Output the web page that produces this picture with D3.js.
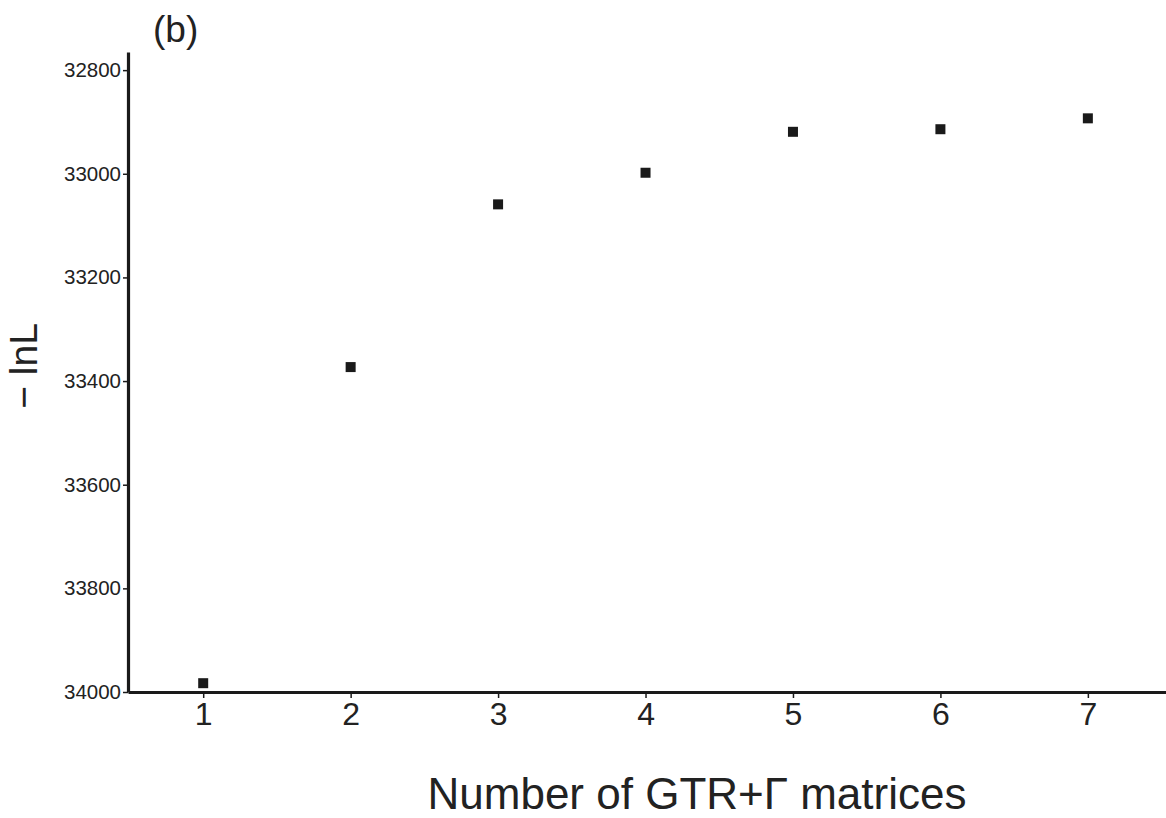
<!DOCTYPE html>
<html>
<head>
<meta charset="utf-8">
<script src="https://cdn.jsdelivr.net/npm/d3@7"></script>
<style>
  body { margin: 0; background: #fff; }
  svg { display: block; font-family: "Liberation Sans", Arial, sans-serif; }
</style>
</head>
<body>
<svg id="chart" width="1166" height="818"></svg>
<script>
// number of GTR+G matrices and -lnL
const matrices = [1, 2, 3, 4, 5, 6, 7];
const negLnL = [33983, 33373, 33059, 32998, 32919, 32914, 32893];
const yTicks = [32800, 33000, 33200, 33400, 33600, 33800, 34000];
const xTicks = [1, 2, 3, 4, 5, 6, 7];

const svg = d3.select('#chart');
const ink = '#1a1a1a';

const x = d3.scaleLinear()
  .domain([0.49, 7.53])
  .range([128, 1166]);

// axis is inverted: smaller -lnL at top
const y = d3.scaleLinear()
  .domain([32765, 34000])
  .range([52, 692]);

const main = svg.append('g').attr('class', 'main');

// points
main.append('g')
  .attr('class', 'points')
  .selectAll('rect')
  .data(matrices.map((m, i) => ({ m, v: negLnL[i] })))
  .join('rect')
  .attr('x', d => x(d.m) - 5)
  .attr('y', d => y(d.v) - 5)
  .attr('width', 10)
  .attr('height', 10)
  .attr('fill', ink);

// y axis
const yAxis = main.append('g')
  .attr('transform', `translate(${x.range()[0]},0)`)
  .call(d3.axisLeft(y).tickValues(yTicks).tickSize(5).tickSizeOuter(0).tickPadding(2).tickFormat(d3.format('d')));

yAxis.select('.domain')
  .attr('stroke', ink)
  .attr('stroke-width', 3.2);
yAxis.selectAll('.tick line')
  .attr('stroke', ink)
  .attr('stroke-width', 1.5);
yAxis.selectAll('.tick text')
  .attr('fill', '#222')
  .style('font-size', '20.5px');

// x axis
const xAxis = main.append('g')
  .attr('transform', `translate(0,${y.range()[1]})`)
  .call(d3.axisBottom(x).tickValues(xTicks).tickSize(6).tickSizeOuter(0).tickPadding(4).tickFormat(d3.format('d')));

xAxis.select('.domain')
  .attr('stroke', ink)
  .attr('stroke-width', 3.2);
xAxis.selectAll('.tick line')
  .attr('stroke', ink)
  .attr('stroke-width', 1.5);
xAxis.selectAll('.tick text')
  .attr('fill', '#222')
  .style('font-size', '32px');

// labels
svg.append('text')
  .attr('x', 153)
  .attr('y', 42)
  .attr('fill', '#222')
  .style('font-size', '37px')
  .text('(b)');

svg.append('text')
  .attr('text-anchor', 'middle')
  .attr('transform', 'translate(37,366) rotate(-90)')
  .attr('fill', '#222')
  .style('font-size', '39px')
  .text('− lnL');

svg.append('text')
  .attr('x', 697)
  .attr('y', 809)
  .attr('text-anchor', 'middle')
  .attr('fill', '#222')
  .style('font-size', '44px')
  .text('Number of GTR+Γ matrices');
</script>
</body>
</html>
